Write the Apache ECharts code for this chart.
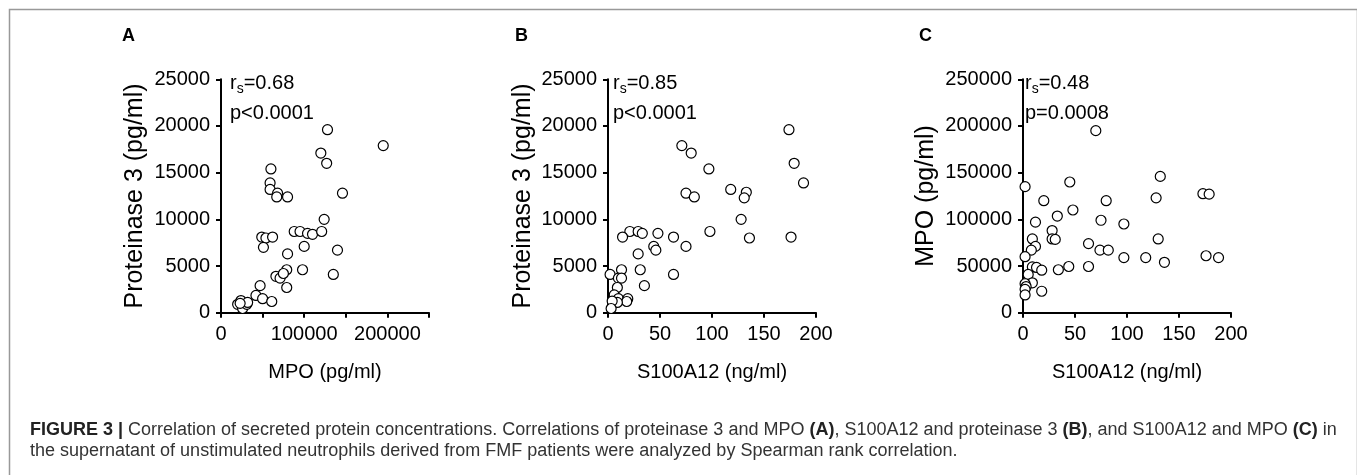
<!DOCTYPE html>
<html>
<head>
<meta charset="utf-8">
<script src="https://cdn.jsdelivr.net/npm/echarts@6/dist/echarts.min.js"></script>
<style>
html,body{margin:0;padding:0;background:#fff;}
#c{width:1357px;height:475px;}
</style>
</head>
<body>
<div id="c"></div>
<script>
// Panel A: MPO (x) vs Proteinase 3 (y)
const aX = [128000,195000,120000,127000,60000,59000,59000,68000,67000,80000,146000,124000,88000,95000,104000,110000,121000,49000,54000,62000,51000,100000,140000,80000,79000,98000,66000,71000,75000,135000,79000,47000,42000,50000,61000,20000,24000,26000,31000,32000,23000];
const aY = [19600,17900,17100,16000,15400,13900,13200,12800,12400,12400,12800,10000,8700,8700,8500,8400,8700,8100,8000,8100,7000,7100,6700,6300,4600,4600,3900,3700,4200,4100,2700,2900,1850,1500,1200,900,1300,450,900,1100,1000];
// Panel B: S100A12 (x) vs Proteinase 3 (y)
const bX = [174,71,80,179,97,188,118,133,75,131,83,128,98,21,29,33,48,14,63,176,136,44,75,46,29,31,13,2,63,10,13,35,9,6,10,19,18,9,4,3];
const bY = [19600,17900,17100,16000,15400,13900,13200,12900,12800,12300,12400,10000,8700,8700,8700,8500,8500,8100,8100,8100,8000,7100,7100,6700,6300,4600,4600,4100,4100,3700,3700,2900,2700,1900,1500,1500,1200,1100,1250,450];
// Panel C: S100A12 (x) vs MPO (y)
const cX = [70,132,45,2,173,179,128,20,80,48,33,75,12,97,28,28,31,130,9,63,12,8,74,82,176,2,97,118,188,136,9,13,44,63,34,18,5,9,2,3,2,18,2];
const cY = [195000,146000,140000,135000,127500,127000,123000,120000,120000,110000,103500,99000,97000,95000,88000,79000,78500,79000,79000,74000,71000,67000,67000,67000,61000,60000,59000,59000,59000,54000,49000,48500,49500,49500,46000,45500,41000,32000,31000,28000,25000,23000,19000];

const panelLetters = ['A','B','C'];
const xTitles = ['MPO (pg/ml)','S100A12 (ng/ml)','S100A12 (ng/ml)'];
const yTitles = ['Proteinase 3 (pg/ml)','Proteinase 3 (pg/ml)','MPO (pg/ml)'];
const rsTexts = ['0.68','0.85','0.48'];
const pTexts = ['p<0.0001','p<0.0001','p=0.0008'];
const xMax = [250000,200,200];
const xInterval = [50000,50,50];
const xLabelStep = [100000,50,50];
const yMax = [25000,25000,250000];
const yInterval = [5000,5000,50000];
const captionLine1 = ['{b|FIGURE 3 |} Correlation of secreted protein concentrations. Correlations of proteinase 3 and MPO {b|(A)}, S100A12 and proteinase 3 {b|(B)}, and S100A12 and MPO {b|(C)} in'];
const captionLine2 = ['the supernatant of unstimulated neutrophils derived from FMF patients were analyzed by Spearman rank correlation.'];

const SANS = "'Liberation Sans',Arial,Helvetica,sans-serif";

const gridLeft = [221, 608, 1023];
const gridTop = 79.3, gridW = 208, gridH = 233.4;
const letterX = [122, 515, 919];
const annX = [230, 613, 1025];
const yNameGap = [73, 72, 84];

const xs = [aX,bX,cX], ys = [aY,bY,cY];

const grids = [], xAxes = [], yAxes = [], series = [], titles = [];
for (let i = 0; i < 3; i++) {
  grids.push({left: gridLeft[i], top: gridTop, width: gridW, height: gridH, containLabel: false});
  const step = xLabelStep[i];
  xAxes.push({
    gridIndex: i, type: 'value', min: 0, max: xMax[i], interval: xInterval[i],
    axisLine: {show: true, lineStyle: {color: '#000', width: 2}},
    axisTick: {show: true, length: 5, lineStyle: {color: '#000', width: 2}},
    splitLine: {show: false},
    axisLabel: {color: '#000', fontSize: 20, fontFamily: SANS, margin: 12,
      formatter: v => (v % step === 0 ? String(v) : '')},
    name: xTitles[i], nameLocation: 'middle', nameGap: 50,
    nameTextStyle: {color: '#000', fontSize: 20, fontFamily: SANS}
  });
  yAxes.push({
    gridIndex: i, type: 'value', min: 0, max: yMax[i], interval: yInterval[i],
    axisLine: {show: true, lineStyle: {color: '#000', width: 2}},
    axisTick: {show: true, length: 5, lineStyle: {color: '#000', width: 2}},
    splitLine: {show: false},
    axisLabel: {color: '#000', fontSize: 20, fontFamily: SANS, margin: 11,
      formatter: v => String(v)},
    name: yTitles[i], nameLocation: 'middle', nameGap: yNameGap[i],
    nameTextStyle: {color: '#000', fontSize: 25, fontFamily: SANS}
  });
  series.push({
    type: 'scatter', xAxisIndex: i, yAxisIndex: i,
    symbol: 'circle', symbolSize: 10,
    itemStyle: {color: '#fff', borderColor: '#000', borderWidth: 1.2, opacity: 1},
    data: xs[i].map((x, k) => [x, ys[i][k]]),
    silent: true
  });
  titles.push({
    text: panelLetters[i], left: letterX[i], top: 27.5, padding: 0,
    textStyle: {fontSize: 18, fontWeight: 'bold', fontFamily: SANS, color: '#000'}
  });
  titles.push({
    text: '{n|r}{s|s}{n|=' + rsTexts[i] + '}', left: annX[i], top: 70, padding: 0,
    textStyle: {fontWeight: 'normal', rich: {
      n: {fontSize: 20, fontFamily: SANS, color: '#000', fontWeight: 'normal'},
      s: {fontSize: 14, fontFamily: SANS, color: '#000', fontWeight: 'normal', padding: [12, 0, 0, 0]}
    }}
  });
  titles.push({
    text: pTexts[i], left: annX[i], top: 103, padding: 0,
    textStyle: {fontSize: 20, fontFamily: SANS, color: '#000', fontWeight: 'normal'}
  });
}
titles.push({
  text: captionLine1[0], left: 30, top: 421, padding: 0,
  textStyle: {fontSize: 18, fontFamily: SANS, color: '#333', fontWeight: 'normal',
    rich: {b: {fontSize: 18, fontFamily: SANS, color: '#222', fontWeight: 'bold'}}}
});
titles.push({
  text: captionLine2[0], left: 30, top: 442, padding: 0,
  textStyle: {fontSize: 18, fontFamily: SANS, color: '#333', fontWeight: 'normal'}
});

const chart = echarts.init(document.getElementById('c'), null, {renderer: 'canvas'});
chart.setOption({
  animation: false,
  backgroundColor: '#fff',
  title: titles,
  grid: grids,
  xAxis: xAxes,
  yAxis: yAxes,
  series: series,
  graphic: [{
    type: 'rect', left: 7, top: 7, silent: true,
    shape: {width: 1348, height: 490},
    style: {fill: 'none', stroke: '#999', lineWidth: 1.5}
  }]
});
</script>
</body>
</html>
